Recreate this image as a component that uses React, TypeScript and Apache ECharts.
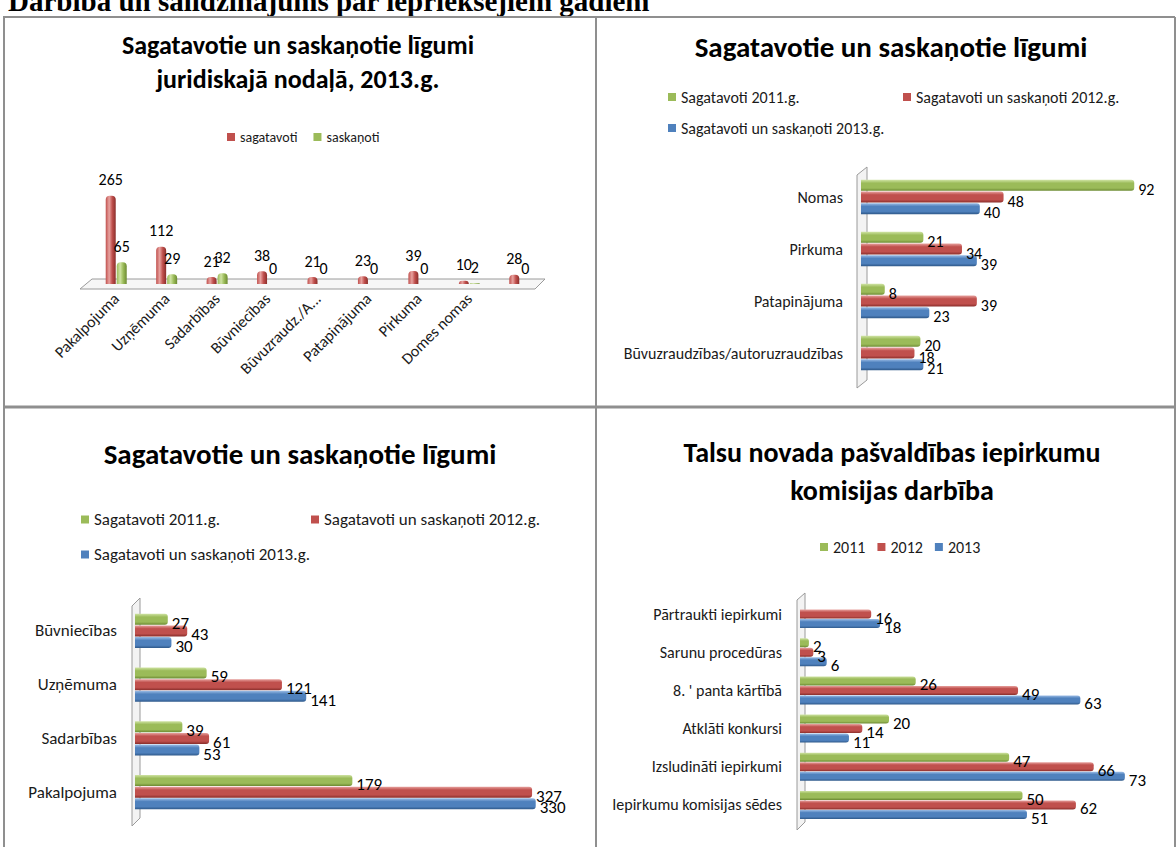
import React, { useEffect, useRef } from 'react';
import * as echarts from 'echarts';

const FONT = 'Carlito, Calibri, Lato, "Open Sans", sans-serif';

// Top-left: juridiskā nodaļa 2013
const tlCategories = ['Pakalpojuma', 'Uzņēmuma', 'Sadarbības', 'Būvniecības', 'Būvuzraudz./A...', 'Patapinājuma', 'Pirkuma', 'Domes nomas', ''];
const tlSagatavoti = [265, 112, 21, 38, 21, 23, 39, 10, 28];
const tlSaskanoti = [65, 29, 32, 0, 0, 0, 0, 2, 0];

// Top-right
const trCategories = ['Nomas', 'Pirkuma', 'Patapinājuma', 'Būvuzraudzības/autoruzraudzības'];
const tr2011 = [92, 21, 8, 20];
const tr2012 = [48, 34, 39, 18];
const tr2013 = [40, 39, 23, 21];

// Bottom-left
const blCategories = ['Būvniecības', 'Uzņēmuma', 'Sadarbības', 'Pakalpojuma'];
const bl2011 = [27, 59, 39, 179];
const bl2012 = [43, 121, 61, 327];
const bl2013 = [30, 141, 53, 330];

// Bottom-right
const brCategories = ['Pārtraukti iepirkumi', 'Sarunu procedūras', "8. ' panta kārtībā", 'Atklāti konkursi', 'Izsludināti iepirkumi', 'Iepirkumu komisijas sēdes'];
const br2011 = [null, 2, 26, 20, 47, 50];
const br2012 = [16, 3, 49, 14, 66, 62];
const br2013 = [18, 6, 63, 11, 73, 51];

const N11 = 'Sagatavoti 2011.g.';
const N12 = 'Sagatavoti un saskaņoti 2012.g.';
const N13 = 'Sagatavoti un saskaņoti 2013.g.';

const GREEN = '#9BBB59';
const RED = '#C0504D';
const BLUE = '#4F81BD';
const SHADES: Record<string, [string, string]> = {
  [GREEN]: ['#CFE3A3', '#6C8A32'],
  [RED]: ['#E8A3A0', '#8A2E2B'],
  [BLUE]: ['#9CBDE6', '#2E5889'],
};

function hGrad(base: string) {
  const [light, dark] = SHADES[base];
  return new echarts.graphic.LinearGradient(0, 0, 0, 1, [
    { offset: 0, color: light },
    { offset: 0.3, color: base },
    { offset: 0.75, color: base },
    { offset: 1, color: dark },
  ]);
}
function vGrad(base: string) {
  const [light, dark] = SHADES[base];
  return new echarts.graphic.LinearGradient(0, 0, 1, 0, [
    { offset: 0, color: base },
    { offset: 0.35, color: light },
    { offset: 0.65, color: base },
    { offset: 1, color: dark },
  ]);
}

function hSeries(name: string, data: (number | null)[], color: string, idx: number, barWidth: number, fontSize: number) {
  return {
    type: 'bar',
    name,
    data,
    xAxisIndex: idx,
    yAxisIndex: idx,
    barWidth,
    barGap: '6%',
    itemStyle: { color: hGrad(color), borderRadius: [0, 3, 3, 0] },
    label: {
      show: true,
      position: 'right',
      distance: 4,
      offset: [0, 4],
      color: '#000',
      fontSize,
      fontFamily: FONT,
    },
  };
}

function catAxis(idx: number, data: string[], fontSize: number) {
  return {
    type: 'category',
    gridIndex: idx,
    data,
    inverse: true,
    axisLine: { show: false },
    axisTick: { show: false },
    axisLabel: { color: '#1a1a1a', fontSize, fontFamily: FONT, margin: 18 },
  };
}
function valAxis(idx: number, max: number) {
  return { type: 'value', gridIndex: idx, min: 0, max, show: false, splitLine: { show: false } };
}

function wall(pts: number[][]) {
  return {
    type: 'polygon',
    z: 0,
    shape: { points: pts },
    style: { fill: '#f3f3f3', stroke: '#9a9a9a', lineWidth: 1 },
  };
}
function title(text: string, x: number, y: number, fontSize: number, lineHeight?: number) {
  return {
    type: 'text',
    x,
    y,
    style: {
      text,
      fill: '#000',
      fontSize,
      fontWeight: 'bold',
      fontFamily: FONT,
      align: 'center',
      verticalAlign: 'middle',
      lineHeight: lineHeight || fontSize * 1.2,
    },
  };
}
function line(x1: number, y1: number, x2: number, y2: number, w: number) {
  return { type: 'line', z: 0, shape: { x1, y1, x2, y2 }, style: { stroke: '#8f8f8f', lineWidth: w } };
}

function legendItem(name: string, color: string, left: number, top: number, fontSize: number) {
  return {
    left,
    top,
    itemWidth: 8,
    itemHeight: 8,
    itemGap: 14,
    icon: 'rect',
    selectedMode: false,
    textStyle: { color: '#1a1a1a', fontSize, fontFamily: FONT },
    data: [{ name, itemStyle: { color } }],
  };
}

export default function App() {
  const ref = useRef<HTMLDivElement>(null);
  useEffect(() => {
    if (!ref.current) return;
    const chart = echarts.init(ref.current, undefined, { renderer: 'svg' });
    const option: any = {
      animation: false,
      backgroundColor: '#fff',
      grid: [
        { left: 91, top: 184, width: 454, height: 100, outerBoundsMode: 'none' },
        { left: 861, top: 171, width: 297, height: 208, outerBoundsMode: 'none' },
        { left: 135, top: 604, width: 425, height: 215, outerBoundsMode: 'none' },
        { left: 800, top: 595, width: 356, height: 229, outerBoundsMode: 'none' },
      ],
      xAxis: [
        {
          type: 'category',
          gridIndex: 0,
          data: tlCategories,
          axisLine: { show: false },
          axisTick: { show: false },
          axisLabel: { rotate: 45, interval: 0, color: '#1a1a1a', fontSize: 16, fontFamily: FONT, margin: 12 },
        },
        valAxis(1, 100),
        valAxis(2, 350),
        valAxis(3, 80),
      ],
      yAxis: [
        { type: 'value', gridIndex: 0, min: 0, max: 300, show: false, splitLine: { show: false } },
        catAxis(1, trCategories, 16),
        catAxis(2, blCategories, 17),
        catAxis(3, brCategories, 16),
      ],
      legend: [
        {
          left: 222,
          top: 125,
          itemWidth: 8,
          itemHeight: 8,
          itemGap: 16,
          icon: 'rect',
          selectedMode: false,
          textStyle: { color: '#1a1a1a', fontSize: 14, fontFamily: FONT },
          data: [
            { name: 'sagatavoti', itemStyle: { color: RED } },
            { name: 'saskaņoti', itemStyle: { color: GREEN } },
          ],
        },
        legendItem(N11, GREEN, 663, 84, 16),
        legendItem(N12, RED, 898, 84, 16),
        legendItem(N13, BLUE, 663, 115, 16),
        legendItem(N11, GREEN, 76, 506, 17),
        legendItem(N12, RED, 306, 506, 17),
        legendItem(N13, BLUE, 76, 541, 17),
        {
          left: 815,
          top: 534,
          itemWidth: 8,
          itemHeight: 8,
          itemGap: 12,
          icon: 'rect',
          selectedMode: false,
          textStyle: { color: '#1a1a1a', fontSize: 16, fontFamily: FONT },
          data: [
            { name: '2011', itemStyle: { color: GREEN } },
            { name: '2012', itemStyle: { color: RED } },
            { name: '2013', itemStyle: { color: BLUE } },
          ],
        },
      ],
      graphic: [
        {
          type: 'text',
          x: 8,
          y: 1,
          style: {
            text: 'Darbība un salīdzinājums par iepriekšējiem gadiem',
            fill: '#000',
            fontSize: 29,
            fontWeight: 'bold',
            fontFamily: '"Liberation Serif", "Times New Roman", serif',
            align: 'left',
            verticalAlign: 'middle',
          },
        },
        line(3, 17, 1175, 17, 2),
        line(4, 17, 4, 847, 2),
        line(596, 17, 596, 847, 2),
        line(1175, 17, 1175, 847, 2),
        line(3, 407, 1175, 407, 3),
        {
          type: 'polygon',
          z: 0,
          shape: { points: [[80, 289], [92, 279], [545, 279], [535, 289]] },
          style: { fill: '#f6f6f6', stroke: '#9a9a9a', lineWidth: 1 },
        },
        wall([[857, 175], [867, 167], [867, 380], [857, 388]]),
        wall([[132, 606], [140, 598], [140, 818], [132, 826]]),
        wall([[797, 600], [805, 593], [805, 822], [797, 830]]),
        title('Sagatavotie un saskaņotie līgumi\njuridiskajā nodaļā, 2013.g.', 298, 62, 26, 34),
        title('Sagatavotie un saskaņotie līgumi', 891, 47, 29),
        title('Sagatavotie un saskaņotie līgumi', 300, 454, 29),
        title('Talsu novada pašvaldības iepirkumu\nkomisijas darbība', 892, 471, 28, 38),
      ],
      series: [
        {
          type: 'bar',
          name: 'sagatavoti',
          data: tlSagatavoti,
          xAxisIndex: 0,
          yAxisIndex: 0,
          barWidth: 10,
          barGap: '10%',
          itemStyle: { color: vGrad(RED), borderRadius: [4, 4, 0, 0] },
          label: { show: true, position: 'top', distance: 8, color: '#000', fontSize: 16, fontFamily: FONT },
        },
        {
          type: 'bar',
          name: 'saskaņoti',
          data: tlSaskanoti,
          xAxisIndex: 0,
          yAxisIndex: 0,
          barWidth: 10,
          barGap: '10%',
          itemStyle: { color: vGrad(GREEN), borderRadius: [4, 4, 0, 0] },
          label: { show: true, position: 'top', distance: 8, color: '#000', fontSize: 16, fontFamily: FONT },
        },
        hSeries(N11, tr2011, GREEN, 1, 11, 16),
        hSeries(N12, tr2012, RED, 1, 11, 16),
        hSeries(N13, tr2013, BLUE, 1, 11, 16),
        hSeries(N11, bl2011, GREEN, 2, 11, 17),
        hSeries(N12, bl2012, RED, 2, 11, 17),
        hSeries(N13, bl2013, BLUE, 2, 11, 17),
        hSeries('2011', br2011, GREEN, 3, 9, 17),
        hSeries('2012', br2012, RED, 3, 9, 17),
        hSeries('2013', br2013, BLUE, 3, 9, 17),
      ],
    };
    chart.setOption(option);
    return () => chart.dispose();
  }, []);
  return <div ref={ref} style={{ position: 'absolute', left: 0, top: 0, width: 1176, height: 847 }} />;
}
